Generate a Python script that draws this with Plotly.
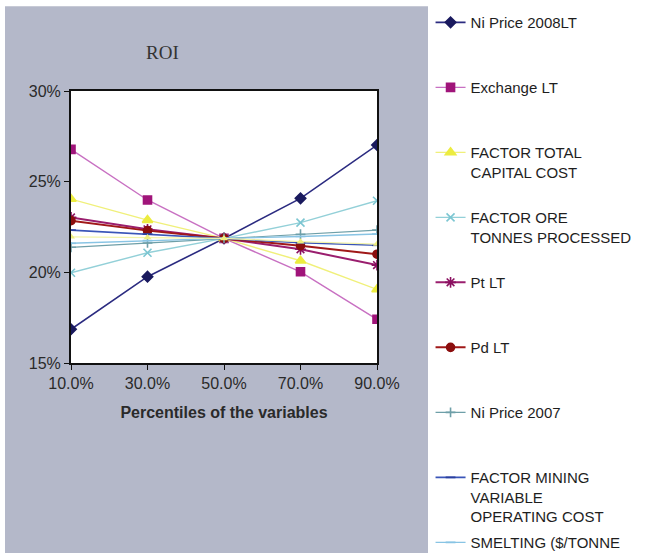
import plotly.graph_objects as go

# Percentile of each input variable (x) and the resulting ROI in % (y)
percentiles = ["10.0%", "30.0%", "50.0%", "70.0%", "90.0%"]

ni_price_2008lt = [16.86, 19.76, 21.87, 24.08, 27.02]
exchange_lt = [26.78, 23.99, 21.87, 20.03, 17.41]
factor_total_capital = [24.04, 22.88, 21.87, 20.64, 19.06]
factor_ore_tonnes = [19.98, 21.08, 21.87, 22.74, 23.95]
pt_lt = [23.03, 22.37, 21.87, 21.27, 20.40]
pd_lt = [22.85, 22.30, 21.87, 21.47, 21.00]
ni_price_2007 = [21.38, 21.62, 21.87, 22.10, 22.33]
factor_mining_opex = [22.33, 22.11, 21.87, 21.63, 21.49]
smelting = [21.60, 21.75, 21.87, 21.98, 22.11]
other_factor = [21.96, 21.92, 21.87, 21.69, 21.56]

y_ticks = [15, 20, 25, 30]
y_tick_labels = ["15%", "20%", "25%", "30%"]

# name, values, line colour, marker colour, marker symbol, marker size, line width, legend lines
series = [
    ("Ni Price 2008LT", ni_price_2008lt, "#2b2b80", "#1a1a5e", "diamond", 8, 1.6, 1),
    ("Exchange LT", exchange_lt, "#c870c2", "#a0147a", "square", 8, 1.4, 1),
    ("FACTOR TOTAL<br>CAPITAL COST", factor_total_capital, "#f0f07a", "#ecec40", "triangle-up", 9, 1.4, 2),
    ("FACTOR ORE<br>TONNES PROCESSED", factor_ore_tonnes, "#93d0d8", "#7cc6d2", "x-thin-open", 8, 1.4, 2),
    ("Pt LT", pt_lt, "#9a1e6e", "#8a1060", "asterisk-open", 9, 2.0, 1),
    ("Pd LT", pd_lt, "#a01818", "#8b0e0e", "circle", 8, 2.0, 1),
    ("Ni Price 2007", ni_price_2007, "#6e9fa8", "#6e9fa8", "cross-thin-open", 7, 1.2, 1),
    ("FACTOR MINING<br>VARIABLE<br>OPERATING COST", factor_mining_opex, "#3a55b8", "#2a3f9e", "line-ew-open", 7, 1.6, 3),
    ("SMELTING ($/TONNE", smelting, "#88c4e4", "#88c4e4", "line-ew-open", 7, 1.4, 1),
]

fig = go.Figure()

for i, (name, vals, lcol, mcol, sym, msize, lw, nlines) in enumerate(series):
    label = name
    if i < len(series) - 1:
        label = name + "<br> " * (3 - nlines)
    fig.add_trace(go.Scatter(
        x=percentiles, y=vals, name=label, mode="lines+markers",
        legendgroup=f"g{i}",
        line=dict(color=lcol, width=lw),
        marker=dict(color=mcol, symbol=sym, size=msize,
                    line=dict(color=mcol, width=1.6)),
    ))

fig.add_trace(go.Scatter(
    x=percentiles, y=other_factor, mode="lines+markers", showlegend=False,
    line=dict(color="#f4f4a8", width=1.2),
    marker=dict(color="#eeee80", symbol="triangle-up", size=7),
))

fig.update_layout(
    width=647, height=553,
    margin=dict(l=71, r=270, t=91, b=190, autoexpand=False),
    paper_bgcolor="white",
    plot_bgcolor="white",
    font=dict(family="Liberation Sans, Arial, sans-serif", size=13, color="#2a2a2a"),
    showlegend=True,
    legend=dict(
        x=1.175, xref="paper", xanchor="left",
        y=0.989, yref="container", yanchor="top",
        valign="top", tracegroupgap=3.5,
        font=dict(size=15, color="#1e1e1e"),
        bgcolor="rgba(0,0,0,0)",
        maxheight=553,
    ),
    shapes=[
        dict(type="rect", xref="paper", yref="paper", layer="below",
             x0=-0.2157, x1=1.1667, y0=-0.70, y1=1.312,
             fillcolor="#b4b8c9", line=dict(width=0)),
        dict(type="rect", xref="x domain", yref="y domain", layer="below",
             x0=0, x1=1, y0=0, y1=1,
             fillcolor="white", line=dict(width=0)),
    ],
    annotations=[
        dict(text="ROI", x=0.30, y=1.143, xref="paper", yref="paper",
             xanchor="center", yanchor="middle",
             showarrow=False, font=dict(family="Liberation Serif, Times New Roman, serif",
                                        size=19, color="#333333")),
    ],
)

fig.update_xaxes(
    type="category", range=[0, 4],
    showline=True, mirror=True, linecolor="#111111", linewidth=2,
    ticks="outside", ticklen=5, tickcolor="#111111", tickwidth=1,
    showgrid=False, zeroline=False,
    tickfont=dict(size=16, color="#2a2a2a"),
    title=dict(text="<b>Percentiles of the variables</b>", standoff=16,
               font=dict(size=16, color="#2a2a2a")),
)
fig.update_yaxes(
    range=[15, 30], tickvals=y_ticks, ticktext=y_tick_labels,
    showline=True, mirror=True, linecolor="#111111", linewidth=2,
    ticks="outside", ticklen=5, tickcolor="#111111", tickwidth=1,
    showgrid=False, zeroline=False,
    tickfont=dict(size=16, color="#2a2a2a"),
)

fig.write_html("out.html")
